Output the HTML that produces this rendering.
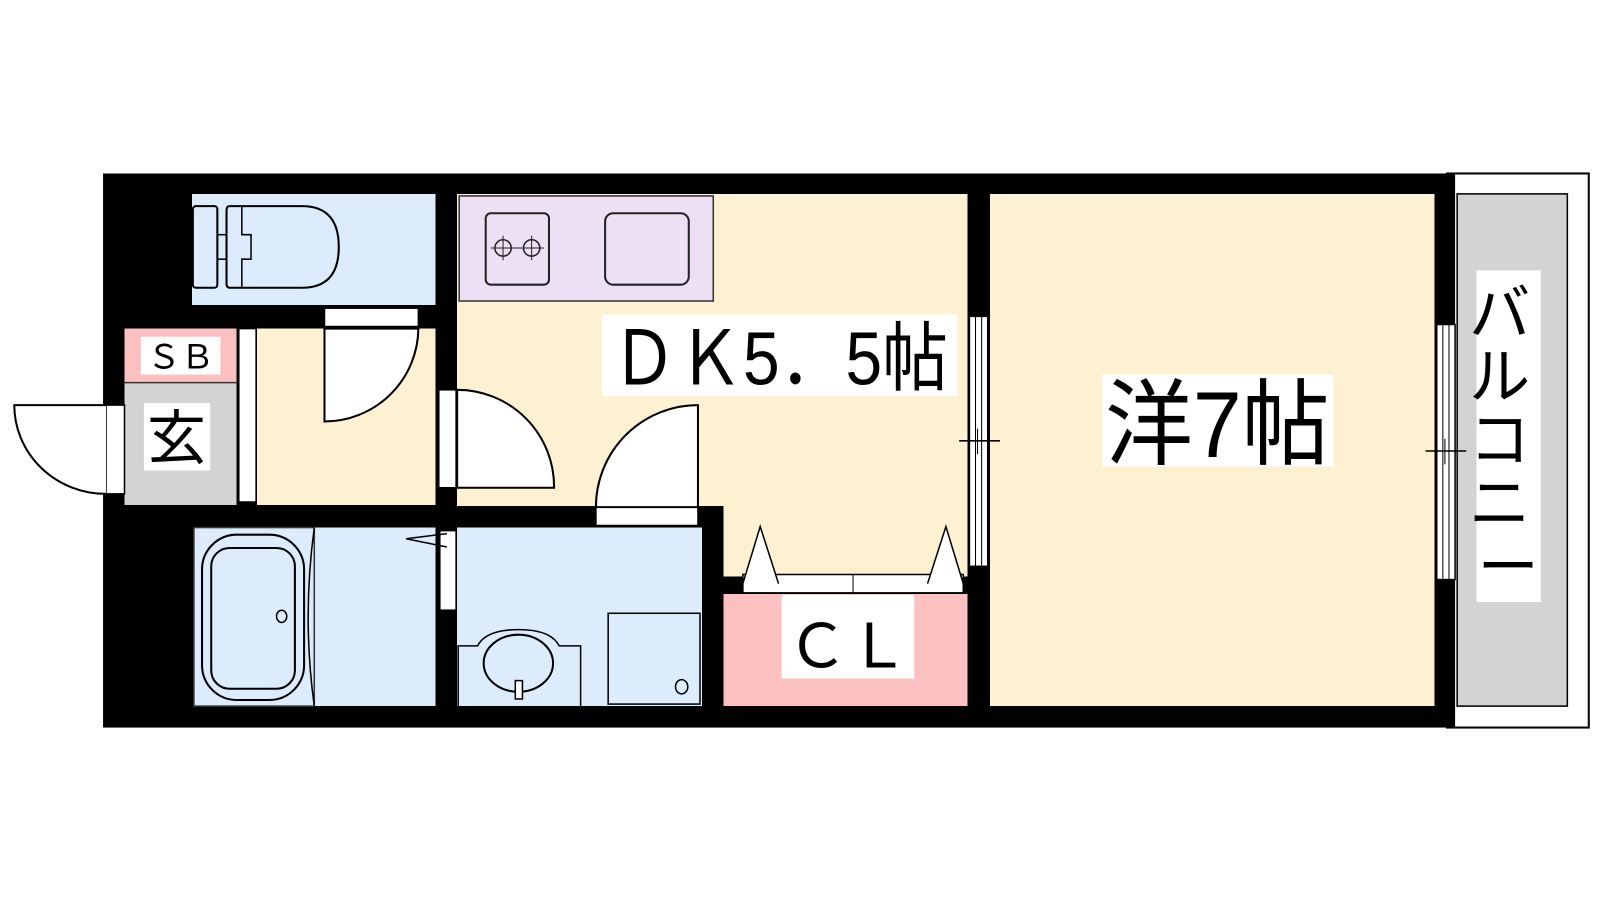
<!DOCTYPE html>
<html><head><meta charset="utf-8"><style>
html,body{margin:0;padding:0;background:#fff;}
svg{display:block;}
text{font-family:"Liberation Sans","Noto Sans CJK JP",sans-serif;}
</style></head><body>
<svg width="1600" height="900" viewBox="0 0 1568 882" preserveAspectRatio="none" xmlns="http://www.w3.org/2000/svg">
<rect width="1568" height="882" fill="#fff"/>
<!-- balcony -->
<rect x="1418" y="170" width="139" height="543" fill="#fff" stroke="#000" stroke-width="2"/>
<rect x="1428" y="190" width="108" height="502" fill="#d3d3d3" stroke="#000" stroke-width="1.5"/>
<!-- outer walls -->
<rect x="101" y="170" width="1325" height="543" fill="#000"/>
<!-- rooms -->
<g shape-rendering="crispEdges">
<rect x="188" y="190" width="239" height="109" fill="#dcecfc"/>
<rect x="448" y="190" width="500" height="306" fill="#fdf1d2"/>
<rect x="709" y="493" width="239" height="72" fill="#fdf1d2"/>
<rect x="970" y="190" width="436" height="502" fill="#fdf1d2"/>
<rect x="252" y="322" width="175" height="173" fill="#fdf1d2"/>
<rect x="122" y="322" width="110" height="52" fill="#fdc0c0"/>
<rect x="122" y="374" width="110" height="121" fill="#d3d3d3"/>
<rect x="190" y="517" width="237" height="175" fill="#dcecfc"/>
<rect x="448" y="517" width="240" height="175" fill="#dcecfc"/>
<rect x="709" y="582" width="239" height="110" fill="#fdc0c0"/>
</g>
<rect x="450" y="192" width="249" height="103" fill="#ede0f5" stroke="#333" stroke-width="1.5"/>
<line x1="122" y1="375" x2="232" y2="375" stroke="#333" stroke-width="1.5"/>
<!-- sliding strip -->
<rect x="234" y="322" width="17" height="170" fill="#fff" stroke="#000" stroke-width="1.5"/>
<!-- toilet door -->
<rect x="318" y="302" width="92" height="18" fill="#fff" stroke="#000" stroke-width="1.5"/>
<path d="M318 322 L318 413 A92 92 0 0 0 410 322 Z" fill="#fff" stroke="#000" stroke-width="2"/>
<!-- hall to DK door -->
<rect x="430" y="382" width="17" height="96" fill="#fff" stroke="#000" stroke-width="1.5"/>
<path d="M448 382 L448 478 L543 478 A95 95 0 0 0 448 382 Z" fill="#fff" stroke="#000" stroke-width="2"/>
<!-- washroom door -->
<rect x="584" y="497" width="100" height="18" fill="#fff" stroke="#000" stroke-width="1.5"/>
<path d="M684 497 L684 397 A100 100 0 0 0 584 497 Z" fill="#fff" stroke="#000" stroke-width="2"/>
<!-- entrance door -->
<rect x="104" y="397" width="18" height="87" fill="#fff" stroke="#000" stroke-width="1.5"/>
<path d="M104 397 L14 397 A90 87 0 0 0 104 484" fill="#fff" stroke="#000" stroke-width="2"/>
<!-- bath sliding door -->
<rect x="431" y="520" width="16" height="78" fill="#fff" stroke="#000" stroke-width="1.5"/>
<path d="M438 523 L398 528 L438 536" fill="none" stroke="#000" stroke-width="1.5"/>
<!-- windows -->
<rect x="950" y="310" width="18" height="245" fill="#fff" stroke="#000" stroke-width="1.5"/>
<line x1="956" y1="310" x2="956" y2="555" stroke="#000" stroke-width="1"/>
<line x1="962" y1="310" x2="962" y2="555" stroke="#000" stroke-width="1"/>
<line x1="940" y1="432" x2="980" y2="432" stroke="#000" stroke-width="1.5"/>
<line x1="958" y1="420" x2="958" y2="445" stroke="#000" stroke-width="1"/>
<rect x="1408" y="318" width="18" height="250" fill="#fff" stroke="#000" stroke-width="1.5"/>
<line x1="1414" y1="318" x2="1414" y2="568" stroke="#000" stroke-width="1"/>
<line x1="1420" y1="318" x2="1420" y2="568" stroke="#000" stroke-width="1"/>
<line x1="1397" y1="442" x2="1437" y2="442" stroke="#000" stroke-width="1.5"/>
<line x1="1416" y1="430" x2="1416" y2="455" stroke="#000" stroke-width="1"/>
<!-- closet doors -->
<rect x="728" y="563" width="216" height="18" fill="#fff" stroke="#000" stroke-width="1.5"/>
<line x1="836" y1="563" x2="836" y2="581" stroke="#000" stroke-width="1"/>
<path d="M728 572 L745 516 L763 572" fill="#fff" stroke="#000" stroke-width="1.5"/>
<path d="M909 572 L927 516 L944 572" fill="#fff" stroke="#000" stroke-width="1.5"/>
<!-- kitchen fixtures -->
<rect x="476" y="209" width="62" height="70" rx="5" fill="none" stroke="#222" stroke-width="2"/>
<circle cx="493" cy="243" r="8" fill="none" stroke="#222" stroke-width="1.5"/>
<circle cx="521" cy="243" r="8" fill="none" stroke="#222" stroke-width="1.5"/>
<line x1="493" y1="231" x2="493" y2="255" stroke="#222" stroke-width="1"/>
<line x1="521" y1="231" x2="521" y2="255" stroke="#222" stroke-width="1"/>
<line x1="481" y1="243" x2="533" y2="243" stroke="#222" stroke-width="1"/>
<rect x="593" y="209" width="82" height="70" rx="8" fill="none" stroke="#222" stroke-width="2"/>
<!-- toilet fixture -->
<rect x="189" y="202" width="24" height="80" rx="3" fill="none" stroke="#000" stroke-width="2"/>
<rect x="213" y="230" width="9" height="24" fill="none" stroke="#000" stroke-width="1.5"/>
<path d="M225 202 L296 202 Q332 202 332 242 Q332 282 296 282 L225 282 Q222 282 222 278 L222 206 Q222 202 225 202 Z" fill="none" stroke="#000" stroke-width="2"/>
<path d="M237 202 L237 230 L246 230 L246 254 L237 254 L237 282" fill="none" stroke="#000" stroke-width="1.5"/>
<!-- bath -->
<rect x="190" y="517" width="118" height="175" fill="none" stroke="#333" stroke-width="1.5"/>
<path d="M308 517 Q296 605 308 692" fill="none" stroke="#000" stroke-width="1.5"/>
<rect x="198" y="524" width="100" height="162" rx="34" fill="none" stroke="#000" stroke-width="2"/>
<rect x="207" y="537" width="82" height="138" rx="18" fill="none" stroke="#000" stroke-width="2"/>
<ellipse cx="276" cy="604" rx="5" ry="6" fill="none" stroke="#000" stroke-width="1.5"/>
<!-- washbasin -->
<path d="M449 692 L449 633 L468 633 Q476 617 508 617 Q540 617 548 633 L569 633 L569 692" fill="none" stroke="#000" stroke-width="1.5"/>
<ellipse cx="508" cy="650" rx="34" ry="28" fill="none" stroke="#000" stroke-width="2"/>
<rect x="505" y="667" width="7" height="18" fill="#fff" stroke="#000" stroke-width="1.5"/>
<rect x="596" y="601" width="90" height="89" fill="none" stroke="#000" stroke-width="1.5"/>
<ellipse cx="668" cy="673" rx="6" ry="7" fill="none" stroke="#000" stroke-width="1.5"/>
<!-- labels -->
<rect x="590" y="308" width="348" height="80" fill="#fff"/>
<text x="764" y="377" font-size="74" text-anchor="middle" textLength="330" lengthAdjust="spacingAndGlyphs">ＤＫ5．5帖</text>
<rect x="1080" y="367" width="227" height="90" fill="#fff"/>
<text x="1193" y="448" font-size="92" text-anchor="middle" textLength="220" lengthAdjust="spacingAndGlyphs">洋7帖</text>
<rect x="766" y="583" width="130" height="82" fill="#fff"/>
<text x="831" y="654" font-size="60" text-anchor="middle">ＣＬ</text>
<rect x="138" y="330" width="78" height="37" fill="#fff"/>
<text x="177" y="361" font-size="33" text-anchor="middle">ＳＢ</text>
<rect x="141" y="395" width="65" height="66" fill="#fff"/>
<text x="173" y="450" font-size="58" text-anchor="middle">玄</text>
<rect x="1447" y="265" width="63" height="325" fill="#fff"/>
<text font-size="60" text-anchor="middle">
<tspan x="1478" y="328">バ</tspan>
<tspan x="1478" y="390">ル</tspan>
<tspan x="1478" y="452">コ</tspan>
<tspan x="1478" y="514">ニ</tspan>
<tspan x="1478" y="576">ー</tspan>
</text>
</svg>
</body></html>
